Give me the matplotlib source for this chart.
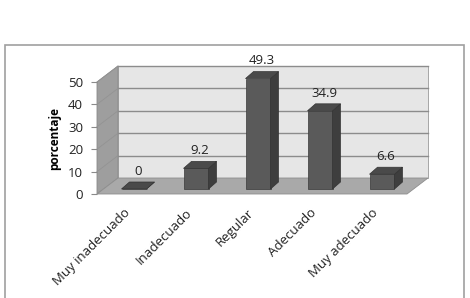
import matplotlib.pyplot as plt
from matplotlib.patches import Polygon, Rectangle

categories = ['Muy inadecuado', 'Inadecuado', 'Regular', 'Adecuado', 'Muy adecuado']
values = [0, 9.2, 49.3, 34.9, 6.6]
value_labels = ['0', '9.2', '49.3', '34.9', '6.6']
y_ticks = [0, 10, 20, 30, 40, 50]

plt.rcParams['font.family'] = ['Open Sans', 'DejaVu Sans']

fig = plt.figure(figsize=(4.7, 2.98), dpi=100)
ax = fig.add_axes([97 / 470, 104 / 298, 310 / 470, 112 / 298])
ax.set_xlim(-0.5, len(categories) - 0.5)
ax.set_ylim(0, 50)


def px(dx, dy):
    # pixel offset -> data units
    o = ax.transData.transform((0, 0))
    p = ax.transData.inverted().transform((o[0] + dx, o[1] + dy))
    return p[0], p[1]


wall_dx, wall_dy = px(21, 16)    # depth of the box
off_dx, off_dy = px(6, 5)        # where bars sit in depth
bar_dx, bar_dy = px(8, 7)        # depth of a bar
bar_w = 25 / 62

x0, x1 = -0.5, len(categories) - 0.5
ymax = y_ticks[-1]

def poly(pts, fc, ec='none', lw=0.6, z=1):
    ax.add_patch(Polygon(pts, closed=True, facecolor=fc, edgecolor=ec,
                         linewidth=lw, zorder=z, clip_on=False))

# back wall, left wall, floor
poly([(x0 + wall_dx, wall_dy), (x1 + wall_dx, wall_dy),
      (x1 + wall_dx, ymax + wall_dy), (x0 + wall_dx, ymax + wall_dy)],
     '#e6e6e6', '#9a9a9a', z=1)
poly([(x0, 0), (x0, ymax), (x0 + wall_dx, ymax + wall_dy), (x0 + wall_dx, wall_dy)],
     '#9e9e9e', '#8a8a8a', z=1)
poly([(x0, 0), (x1, 0), (x1 + wall_dx, wall_dy), (x0 + wall_dx, wall_dy)],
     '#a9a9a9', '#8e8e8e', z=1)

# grid lines
for t in y_ticks[1:]:
    ax.plot([x0 + wall_dx, x1 + wall_dx], [t + wall_dy, t + wall_dy],
            color='#8c8c8c', lw=1, zorder=2, clip_on=False)
    ax.plot([x0, x0 + wall_dx], [t, t + wall_dy],
            color='#939393', lw=0.6, zorder=2, clip_on=False)

# bars
for i, v in enumerate(values):
    l = i - bar_w / 2 + off_dx
    r = i + bar_w / 2 + off_dx
    b = off_dy
    top = v + off_dy
    poly([(l, b), (r, b), (r, top), (l, top)], '#5a5a5a', '#3a3a3a', 0.5, 3)
    poly([(r, b), (r + bar_dx, b + bar_dy), (r + bar_dx, top + bar_dy), (r, top)],
         '#3e3e3e', '#333333', 0.5, 3)
    poly([(l, top), (r, top), (r + bar_dx, top + bar_dy), (l + bar_dx, top + bar_dy)],
         '#4a4a4a', '#333333', 0.5, 3)
    ax.annotate(value_labels[i], (i + off_dx + bar_dx / 2, top + bar_dy),
                xytext=(0, 3), textcoords='offset points', ha='center', va='bottom',
                fontsize=9.5, color='#222222', zorder=4, annotation_clip=False)

for s in ax.spines.values():
    s.set_visible(False)
ax.patch.set_visible(False)

ax.set_yticks(y_ticks)
ax.tick_params(axis='y', length=4, width=0.8, color='#8a8a8a', pad=6,
               labelsize=9.5, labelcolor='#222222')
ax.set_xticks(range(len(categories)))
ax.set_xticklabels(categories, rotation=45, ha='right', va='center',
                   rotation_mode='anchor', fontsize=9.5, color='#222222')
ax.tick_params(axis='x', length=0, pad=12)
ax.set_ylabel('porcentaje', fontweight='bold', fontsize=8.5, labelpad=5)

# outer chart frame
fig.add_artist(Rectangle((5 / 470, -0.1), 459 / 470, 1.1 - 45 / 298,
                         transform=fig.transFigure, fill=False,
                         edgecolor='#a0a0a0', linewidth=1.2))

fig.savefig('out.png', dpi=100)
